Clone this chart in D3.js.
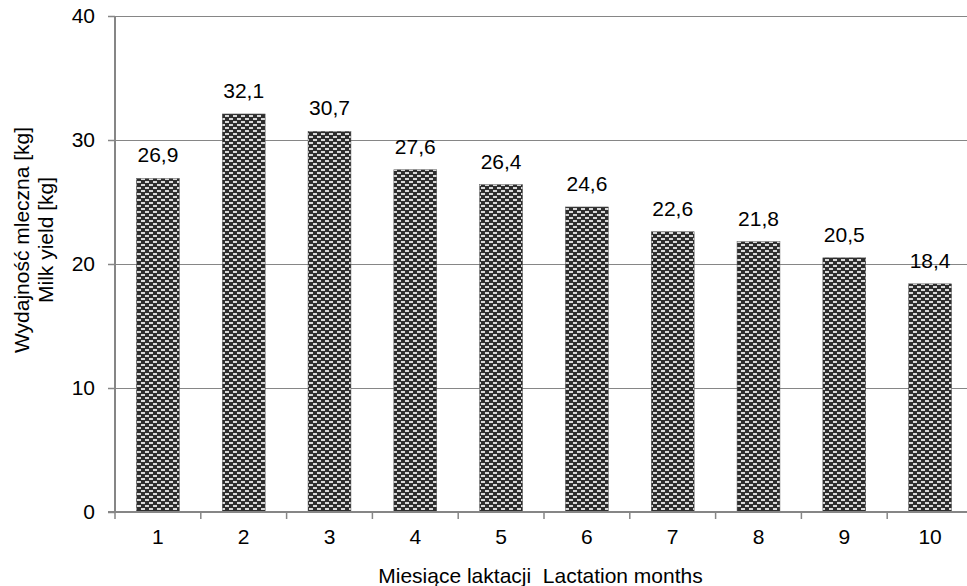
<!DOCTYPE html>
<html><head><meta charset="utf-8">
<script src="https://cdn.jsdelivr.net/npm/d3@7"></script>
<style>body{margin:0;background:#fff}svg{display:block}text{font-family:"Liberation Sans",Arial,sans-serif;fill:#000;white-space:pre}</style>
</head><body>
<svg id="c" width="967" height="586"></svg>
<script>
const months = ["1","2","3","4","5","6","7","8","9","10"];
const yieldKg = [26.9, 32.1, 30.7, 27.6, 26.4, 24.6, 22.6, 21.8, 20.5, 18.4];
const yTicks = [0, 10, 20, 30, 40];
const yTitle = ["Wydajność mleczna [kg]", "Milk yield [kg]"];
const xTitle = "Miesiące laktacji  Lactation months";

(function () {
const svg = d3.select("#c");
const pLeft = 115, pRight = 973, pTop = 16, pBottom = 512;
const fs = 21;
const x = d3.scaleBand().domain(months).range([pLeft, pRight]).paddingInner(0.5).paddingOuter(0.25);
const y = d3.scaleLinear().domain([0, 40]).range([pBottom, pTop]);
const axisCol = "#868686";

const defs = svg.append("defs");
const pat = defs.append("pattern").attr("id", "brick").attr("patternUnits", "userSpaceOnUse")
  .attr("width", 8).attr("height", 6);
pat.append("rect").attr("width", 8).attr("height", 6).attr("fill", "#2e2e2e");
pat.append("rect").attr("x", 1).attr("y", 1).attr("width", 4).attr("height", 2).attr("fill", "#d8d8d8");
pat.append("rect").attr("x", 5).attr("y", 4).attr("width", 4).attr("height", 2).attr("fill", "#d8d8d8");
pat.append("rect").attr("x", -3).attr("y", 4).attr("width", 4).attr("height", 2).attr("fill", "#d8d8d8");

// gridlines
svg.append("g").selectAll("line").data(yTicks.filter(d => d > 0)).join("line")
  .attr("x1", pLeft - 7).attr("x2", 967).attr("y1", d => y(d)).attr("y2", d => y(d))
  .attr("stroke", axisCol).attr("stroke-width", 1).attr("shape-rendering", "crispEdges");

// bars
svg.append("g").selectAll("rect").data(yieldKg).join("rect")
  .attr("x", (d, i) => x(months[i])).attr("width", x.bandwidth())
  .attr("y", d => y(d)).attr("height", d => y(0) - y(d))
  .attr("fill", "url(#brick)").attr("stroke", "#555").attr("stroke-width", 0.5);

// y axis
const yAxis = d3.axisLeft(y).tickValues(yTicks).tickSize(7).tickPadding(13).tickFormat(d3.format("d"));
const gy = svg.append("g").attr("transform", `translate(${pLeft},0)`).call(yAxis);
gy.select(".domain").attr("stroke", axisCol).attr("stroke-width", 2).attr("d", `M0,${pTop}V${pBottom}`);
gy.selectAll(".tick line").attr("stroke", axisCol).attr("stroke-width", 1.5);
gy.selectAll(".tick text").attr("font-size", fs).attr("font-family", "Liberation Sans, Arial, sans-serif").attr("fill", "#000");

// x axis
svg.append("line").attr("x1", pLeft - 7).attr("x2", pRight).attr("y1", pBottom).attr("y2", pBottom)
  .attr("stroke", axisCol).attr("stroke-width", 2);
const bounds = months.map(m => x(m) - x.step() * x.paddingInner() / 2);
svg.append("g").selectAll("line").data(bounds).join("line")
  .attr("x1", d => d).attr("x2", d => d).attr("y1", pBottom).attr("y2", pBottom + 7)
  .attr("stroke", axisCol).attr("stroke-width", 1.5);
svg.append("g").selectAll("text").data(months).join("text")
  .attr("x", d => x(d) + x.bandwidth() / 2).attr("y", 544)
  .attr("text-anchor", "middle").attr("font-size", fs).text(d => d);

// value labels
svg.append("g").selectAll("text").data(yieldKg).join("text")
  .attr("x", (d, i) => x(months[i]) + x.bandwidth() / 2).attr("y", d => y(d) - 16)
  .attr("text-anchor", "middle").attr("font-size", fs)
  .text(d => d3.format(".1f")(d).replace(".", ","));

// titles
svg.append("text").attr("transform", "translate(29,240) rotate(-90)").attr("text-anchor", "middle")
  .attr("font-size", fs).text(yTitle[0]);
svg.append("text").attr("transform", "translate(53,240) rotate(-90)").attr("text-anchor", "middle")
  .attr("font-size", fs).text(yTitle[1]);
svg.append("text").attr("x", 540.5).attr("y", 583).attr("text-anchor", "middle")
  .attr("font-size", fs).text(xTitle);
})();
</script>
</body></html>
